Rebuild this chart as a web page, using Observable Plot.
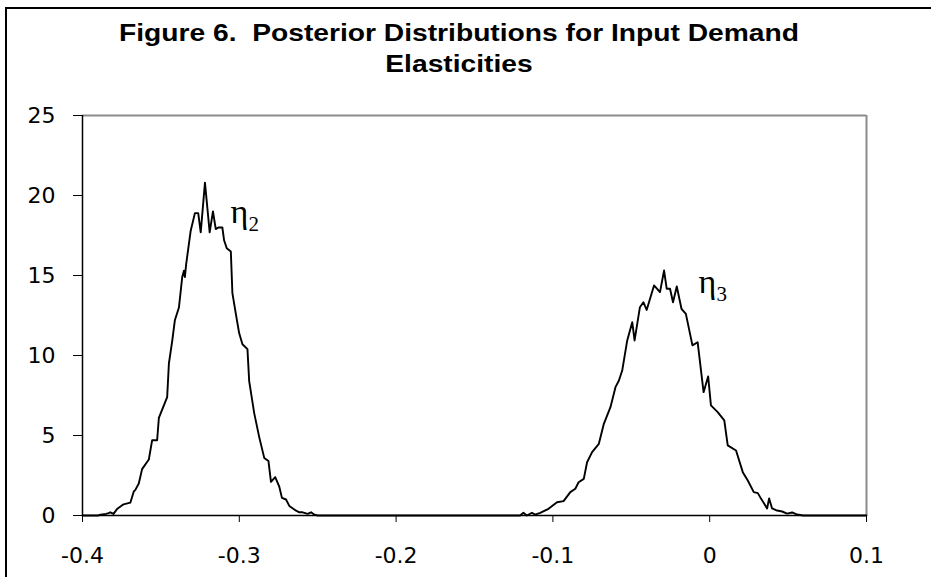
<!DOCTYPE html>
<html>
<head>
<meta charset="utf-8">
<script src="https://cdn.jsdelivr.net/npm/d3@7"></script>
<script src="https://cdn.jsdelivr.net/npm/@observablehq/plot@0.6"></script>
<style>
  html, body { margin: 0; padding: 0; background: #fff; }
  #wrap { position: relative; width: 931px; height: 577px; overflow: hidden; background: #fff; }
  #frame { position: absolute; left: 5px; top: 7px; width: 1000px; height: 700px; border: 2px solid #000; box-sizing: border-box; }
  #title { position: absolute; left: 0; top: 17.5px; width: 918px; text-align: center;
           font-family: "Liberation Sans", Arial, sans-serif; font-weight: bold; font-size: 23.5px; line-height: 31px;
           color: #000; transform: scaleX(1.2); transform-origin: 459px 0; }
  #chart { position: absolute; left: 0; top: 0; }
</style>
</head>
<body>
<div id="wrap">
  <div id="frame"></div>
  <div id="title">Figure 6.&nbsp; Posterior Distributions for Input Demand<br>Elasticities</div>
  <div id="chart"></div>
</div>
<script>
// Axis ticks
const xTicks = [-0.4, -0.3, -0.2, -0.1, 0, 0.1];
const xTickLabels = ["-0.4", "-0.3", "-0.2", "-0.1", "0", "0.1"];
const yTicks = [0, 5, 10, 15, 20, 25];

// Posterior density of eta_2
const eta2X = [-0.4000, -0.3900, -0.3885, -0.3850, -0.3834, -0.3823, -0.3802, -0.3780, -0.3738, -0.3695,
  -0.3673, -0.3663, -0.3641, -0.3620, -0.3577, -0.3556, -0.3524, -0.3513, -0.3460, -0.3449,
  -0.3428, -0.3411, -0.3385, -0.3364, -0.3353, -0.3347, -0.3339, -0.3310, -0.3283, -0.3262,
  -0.3246, -0.3219, -0.3189, -0.3168, -0.3150, -0.3134, -0.3108, -0.3097, -0.3080, -0.3054,
  -0.3044, -0.3022, -0.3001, -0.2980, -0.2948, -0.2937, -0.2905, -0.2873, -0.2841, -0.2814,
  -0.2798, -0.2771, -0.2745, -0.2728, -0.2702, -0.2681, -0.2638, -0.2617, -0.2596, -0.2564,
  -0.2542, -0.2521, -0.2500];
const eta2Y = [0, 0, 0.05, 0.1, 0.15, 0.2, 0.1, 0.4, 0.7, 0.8,
  1.5, 1.6, 2.0, 2.9, 3.5, 4.7, 4.7, 6.1, 7.4, 9.5,
  10.9, 12.2, 13.0, 14.9, 15.3, 14.9, 15.7, 17.8, 18.9, 18.9,
  17.7, 20.8, 17.7, 19.0, 17.9, 18.0, 18.0, 17.2, 16.7, 16.5,
  13.9, 12.6, 11.4, 10.7, 10.4, 8.4, 6.4, 4.9, 3.6, 3.4,
  2.1, 2.4, 1.8, 1.1, 1.0, 0.6, 0.3, 0.2, 0.2, 0.1,
  0.2, 0.05, 0];

// Posterior density of eta_3
const eta3X = [-0.1230, -0.1209, -0.1188, -0.1166, -0.1134, -0.1113, -0.1081, -0.1028, -0.0974, -0.0932,
  -0.0889, -0.0857, -0.0836, -0.0803, -0.0782, -0.0750, -0.0707, -0.0675, -0.0633, -0.0601,
  -0.0579, -0.0558, -0.0526, -0.0494, -0.0479, -0.0445, -0.0423, -0.0402, -0.0355, -0.0317,
  -0.0291, -0.0274, -0.0253, -0.0234, -0.0210, -0.0180, -0.0152, -0.0110, -0.0077, -0.0039,
  -0.0010, 0.0008, 0.0051, 0.0093, 0.0115, 0.0168, 0.0211, 0.0243, 0.0281, 0.0307,
  0.0328, 0.0347, 0.0366, 0.0379, 0.0398, 0.0430, 0.0462, 0.0494, 0.0526, 0.0558,
  0.0596, 0.1000];
const eta3Y = [0, 0, 0.17, 0, 0.17, 0.06, 0.17, 0.42, 0.83, 0.9,
  1.46, 1.67, 2.08, 2.29, 3.33, 3.96, 4.48, 5.73, 6.77, 8.02,
  8.44, 9.06, 10.94, 12.08, 10.94, 13.02, 13.33, 12.85, 14.38, 13.96,
  15.31, 14.17, 14.17, 13.33, 14.31, 12.92, 12.6, 10.63, 10.83, 7.71,
  8.69, 6.88, 6.46, 5.94, 4.38, 4.06, 2.71, 2.19, 1.46, 1.4,
  1.04, 0.75, 0.44, 1.06, 0.44, 0.31, 0.25, 0.12, 0.19, 0.06,
  0, 0];

// Curve labels
const labelBase = ["η", "η"];
const labelSub = ["2", "3"];
const labelX = [-0.3056, -0.0071];
const labelY = [18.3, 13.9];

const curve = [
  ...eta2X.map((x, i) => ({x, y: eta2Y[i]})),
  ...eta3X.map((x, i) => ({x, y: eta3Y[i]}))
];
const labels = labelBase.map((t, i) => ({t, s: labelSub[i], x: labelX[i], y: labelY[i]}));

const chart = Plot.plot({
  width: 931,
  height: 577,
  marginLeft: 82,
  marginRight: 65,
  marginTop: 115,
  marginBottom: 62,
  x: {domain: [-0.4, 0.1], label: null},
  y: {domain: [0, 25], label: null},
  style: {fontFamily: "DejaVu Sans", fontSize: "22px", color: "#000", background: "transparent", overflow: "visible"},
  marks: [
    Plot.ruleY([25], {stroke: "#8c8c8c", strokeWidth: 2}),
    Plot.ruleX([0.1], {stroke: "#8c8c8c", strokeWidth: 2}),
    Plot.axisY({ticks: yTicks, tickSize: 9, tickPadding: 18, fontSize: 22, label: null, tickFormat: d => String(d)}),
    Plot.axisX({ticks: xTicks, tickSize: 7, tickPadding: 25, fontSize: 22, label: null,
      tickFormat: d => xTickLabels[xTicks.indexOf(d)]}),
    Plot.ruleX([-0.4], {stroke: "#000", strokeWidth: 1.5}),
    Plot.ruleY([0], {stroke: "#000", strokeWidth: 1.5}),
    Plot.line(curve, {x: "x", y: "y", stroke: "#000", strokeWidth: 1.9}),
    Plot.text(labels, {x: "x", y: "y", text: "t", textAnchor: "start", lineAnchor: "bottom",
      fontFamily: "Liberation Serif", fontSize: 34, fill: "#000"}),
    Plot.text(labels, {x: "x", y: "y", text: "s", textAnchor: "start", lineAnchor: "bottom", dx: 18, dy: 8,
      fontFamily: "Liberation Serif", fontSize: 21, fill: "#000"})
  ]
});
document.getElementById("chart").appendChild(chart);
</script>
</body>
</html>
